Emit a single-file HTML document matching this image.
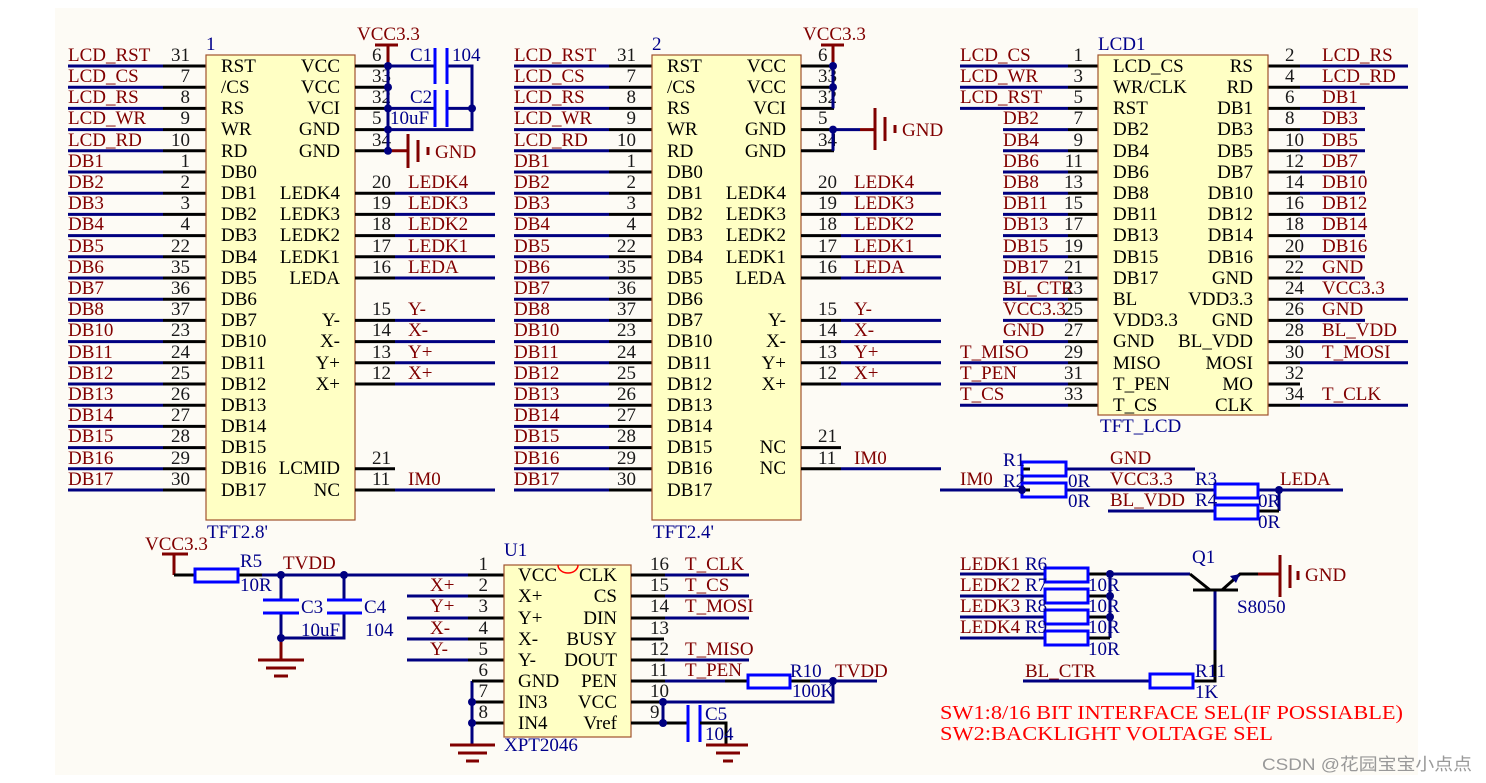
<!DOCTYPE html>
<html><head><meta charset="utf-8"><style>
html,body{margin:0;padding:0;background:#fff;width:1486px;height:783px;overflow:hidden}
svg{display:block}
text{font-family:"Liberation Serif",serif;font-size:19px}
.n{fill:#800000}.p{fill:#1a1a1a}.m{fill:#000}.b{fill:#00008b}.r{fill:#ff0000}
.e{text-anchor:end}
.bw{stroke:#000080;stroke-width:3;fill:none}
.kw{stroke:#000;stroke-width:3;fill:none}
.rw{stroke:#800000;stroke-width:3;fill:none}
.cp{stroke:#0000ff;stroke-width:3;fill:none}
.bx{fill:#ffffc4;stroke:#a0522d;stroke-width:1.2}
.rs{fill:none;stroke:#0000ff;stroke-width:3}
</style></head><body>
<svg width="1486" height="783" viewBox="0 0 1486 783" xmlns="http://www.w3.org/2000/svg">
<rect x="55" y="8" width="1363" height="767" fill="#fdfbf5"/>

<g id="L1">
<path class="bw" d="M68 66H163M68 87.2H163M68 108.4H163M68 129.6H163M68 150.8H163M68 172H163M68 193.2H163M68 214.4H163M68 235.6H163M68 256.8H163M68 278H163M68 299.2H163M68 320.4H163M68 341.6H163M68 362.8H163M68 384H163M68 405.2H163M68 426.4H163M68 447.6H163M68 468.8H163M68 490H163"/>
<path class="kw" d="M163 66H206M163 87.2H206M163 108.4H206M163 129.6H206M163 150.8H206M163 172H206M163 193.2H206M163 214.4H206M163 235.6H206M163 256.8H206M163 278H206M163 299.2H206M163 320.4H206M163 341.6H206M163 362.8H206M163 384H206M163 405.2H206M163 426.4H206M163 447.6H206M163 468.8H206M163 490H206"/>
<rect class="bx" x="206" y="55" width="149" height="465"/>
<g class="n">
<text x="68" y="61">LCD_RST</text><text x="68" y="82">LCD_CS</text><text x="68" y="103">LCD_RS</text><text x="68" y="124">LCD_WR</text><text x="68" y="146">LCD_RD</text>
<text x="68" y="167">DB1</text><text x="68" y="188">DB2</text><text x="68" y="209">DB3</text><text x="68" y="230">DB4</text><text x="68" y="252">DB5</text>
<text x="68" y="273">DB6</text><text x="68" y="294">DB7</text><text x="68" y="315">DB8</text><text x="68" y="336">DB10</text><text x="68" y="358">DB11</text>
<text x="68" y="379">DB12</text><text x="68" y="400">DB13</text><text x="68" y="421">DB14</text><text x="68" y="442">DB15</text><text x="68" y="464">DB16</text><text x="68" y="485">DB17</text>
</g>
<g class="p e">
<text x="190" y="61">31</text><text x="190" y="82">7</text><text x="190" y="103">8</text><text x="190" y="124">9</text><text x="190" y="146">10</text>
<text x="190" y="167">1</text><text x="190" y="188">2</text><text x="190" y="209">3</text><text x="190" y="230">4</text><text x="190" y="252">22</text>
<text x="190" y="273">35</text><text x="190" y="294">36</text><text x="190" y="315">37</text><text x="190" y="336">23</text><text x="190" y="358">24</text>
<text x="190" y="379">25</text><text x="190" y="400">26</text><text x="190" y="421">27</text><text x="190" y="442">28</text><text x="190" y="464">29</text><text x="190" y="485">30</text>
</g>
<g class="m">
<text x="221" y="72">RST</text><text x="221" y="93">/CS</text><text x="221" y="114">RS</text><text x="221" y="135">WR</text><text x="221" y="157">RD</text>
<text x="221" y="178">DB0</text><text x="221" y="199">DB1</text><text x="221" y="220">DB2</text><text x="221" y="241">DB3</text><text x="221" y="263">DB4</text>
<text x="221" y="284">DB5</text><text x="221" y="305">DB6</text><text x="221" y="326">DB7</text><text x="221" y="347">DB10</text><text x="221" y="369">DB11</text>
<text x="221" y="390">DB12</text><text x="221" y="411">DB13</text><text x="221" y="432">DB14</text><text x="221" y="453">DB15</text><text x="221" y="474">DB16</text><text x="221" y="496">DB17</text>
</g>
<path class="kw" d="M355 66H388M355 87.2H388M355 108.4H388M355 129.6H388M355 150.8H388M355 193.2H395M355 214.4H395M355 235.6H395M355 256.8H395M355 278H395M355 320.4H395M355 341.6H395M355 362.8H395M355 384H395"/>
<path class="bw" d="M395 193.2H495M395 214.4H495M395 235.6H495M395 256.8H495M395 278H495M395 320.4H495M395 341.6H495M395 362.8H495M395 384H495"/>
<g class="p">
<text x="372" y="61">6</text><text x="372" y="82">33</text><text x="372" y="103">32</text><text x="372" y="124">5</text><text x="372" y="146">34</text>
<text x="372" y="188">20</text><text x="372" y="209">19</text><text x="372" y="230">18</text><text x="372" y="252">17</text><text x="372" y="273">16</text>
<text x="372" y="315">15</text><text x="372" y="336">14</text><text x="372" y="358">13</text><text x="372" y="379">12</text>
</g>
<g class="n">
<text x="408" y="188">LEDK4</text><text x="408" y="209">LEDK3</text><text x="408" y="230">LEDK2</text><text x="408" y="252">LEDK1</text><text x="408" y="273">LEDA</text>
<text x="408" y="315">Y-</text><text x="408" y="336">X-</text><text x="408" y="358">Y+</text><text x="408" y="379">X+</text>
</g>
<g class="m e">
<text x="340" y="72">VCC</text><text x="340" y="93">VCC</text><text x="340" y="114">VCI</text><text x="340" y="135">GND</text><text x="340" y="157">GND</text>
<text x="340" y="199">LEDK4</text><text x="340" y="220">LEDK3</text><text x="340" y="241">LEDK2</text><text x="340" y="263">LEDK1</text><text x="340" y="284">LEDA</text>
<text x="340" y="326">Y-</text><text x="340" y="347">X-</text><text x="340" y="369">Y+</text><text x="340" y="390">X+</text>
</g>
</g>

<text class="b" x="206" y="50">1</text>
<text class="b" x="207" y="538">TFT2.8'</text>
<text class="m e" x="340" y="474">LCMID</text><text class="m e" x="340" y="496">NC</text>
<path class="kw" d="M355 468.8H395M355 490H395"/>
<path class="bw" d="M395 490H495"/>
<text class="p" x="372" y="464">21</text><text class="p" x="372" y="485">11</text>
<text class="n" x="408" y="485">IM0</text>
<text class="n" x="357" y="40">VCC3.3</text>
<path class="rw" d="M375 45H398M388 45V66"/>
<path class="bw" d="M388 66V129.6M388 66H435M447 66H472V129.6H388M388 108.4H435M447 108.4H472M388 129.6V150.8"/>
<path class="cp" d="M435 48V84M447 48V84M435 90V127M447 90V127"/>
<path class="rw" d="M388 150.8H408M408 134V168M418 140V162M428 147V155"/>
<g fill="#000080"><circle cx="388" cy="66" r="4"/><circle cx="388" cy="87.2" r="4"/><circle cx="388" cy="108.4" r="4"/><circle cx="388" cy="129.6" r="4"/><circle cx="388" cy="150.8" r="4"/><circle cx="472" cy="108.4" r="4"/></g>
<text class="b" x="410" y="61">C1</text><text class="b" x="452" y="61">104</text>
<text class="b" x="410" y="103">C2</text><text class="b" x="390" y="124">10uF</text>
<text class="n" x="435" y="158">GND</text>

<use href="#L1" x="446" y="0"/>
<text class="b" x="652" y="50">2</text>
<text class="b" x="653" y="538">TFT2.4'</text>
<text class="m e" x="786" y="453">NC</text><text class="m e" x="786" y="474">NC</text>
<path class="kw" d="M801 447.6H841M801 468.8H841"/>
<path class="bw" d="M841 468.8H941"/>
<text class="p" x="818" y="442">21</text><text class="p" x="818" y="464">11</text>
<text class="n" x="854" y="464">IM0</text>
<text class="n" x="803" y="40">VCC3.3</text>
<path class="rw" d="M821 45H844M833 45V66"/>
<path class="bw" d="M833 66V108.4M833 129.6V150.8M833 129.6H860"/>
<path class="rw" d="M860 129.6H875M875 108V150M885 117V141M895 125V133"/>
<g fill="#000080"><circle cx="833" cy="66" r="4"/><circle cx="833" cy="87.2" r="4"/><circle cx="833" cy="129.6" r="4"/></g>
<text class="n" x="902" y="136">GND</text>

<path class="bw" d="M960 66H1068M960 87.2H1068M960 108.4H1068M1003 129.6H1068M1003 150.8H1068M1003 172H1068M1003 193.2H1068M1003 214.4H1068M1003 235.6H1068M1003 256.8H1068M1003 278H1068M1003 299.2H1068M1003 320.4H1068M1003 341.6H1068M960 362.8H1068M960 384H1068M960 405.2H1068"/>
<path class="kw" d="M1068 66H1098M1068 87.2H1098M1068 108.4H1098M1068 129.6H1098M1068 150.8H1098M1068 172H1098M1068 193.2H1098M1068 214.4H1098M1068 235.6H1098M1068 256.8H1098M1068 278H1098M1068 299.2H1098M1068 320.4H1098M1068 341.6H1098M1068 362.8H1098M1068 384H1098M1068 405.2H1098"/>
<path class="kw" d="M1268 66H1300M1268 87.2H1300M1268 108.4H1300M1268 129.6H1300M1268 150.8H1300M1268 172H1300M1268 193.2H1300M1268 214.4H1300M1268 235.6H1300M1268 256.8H1300M1268 278H1300M1268 299.2H1300M1268 320.4H1300M1268 341.6H1300M1268 362.8H1300M1268 384H1300M1268 405.2H1300"/>
<path class="bw" d="M1300 66H1408M1300 87.2H1408M1300 108.4H1365M1300 129.6H1365M1300 150.8H1365M1300 172H1365M1300 193.2H1365M1300 214.4H1365M1300 235.6H1365M1300 256.8H1365M1300 278H1365M1300 299.2H1408M1300 320.4H1365M1300 341.6H1408M1300 362.8H1408M1300 405.2H1408"/>
<rect class="bx" x="1098" y="55" width="170" height="360"/>
<text class="b" x="1098" y="50">LCD1</text><text class="b" x="1100" y="432">TFT_LCD</text>
<g class="n">
<text x="960" y="61">LCD_CS</text><text x="960" y="82">LCD_WR</text><text x="960" y="103">LCD_RST</text>
<text x="1003" y="124">DB2</text><text x="1003" y="146">DB4</text><text x="1003" y="167">DB6</text><text x="1003" y="188">DB8</text><text x="1003" y="209">DB11</text>
<text x="1003" y="230">DB13</text><text x="1003" y="252">DB15</text><text x="1003" y="273">DB17</text><text x="1003" y="294">BL_CTR</text><text x="1003" y="315">VCC3.3</text>
<text x="1003" y="336">GND</text><text x="960" y="358">T_MISO</text><text x="960" y="379">T_PEN</text><text x="960" y="400">T_CS</text>
<text x="1322" y="61">LCD_RS</text><text x="1322" y="82">LCD_RD</text><text x="1322" y="103">DB1</text><text x="1322" y="124">DB3</text><text x="1322" y="146">DB5</text>
<text x="1322" y="167">DB7</text><text x="1322" y="188">DB10</text><text x="1322" y="209">DB12</text><text x="1322" y="230">DB14</text><text x="1322" y="252">DB16</text>
<text x="1322" y="273">GND</text><text x="1322" y="294">VCC3.3</text><text x="1322" y="315">GND</text><text x="1322" y="336">BL_VDD</text><text x="1322" y="358">T_MOSI</text><text x="1322" y="400">T_CLK</text>
</g>
<g class="p e">
<text x="1083" y="61">1</text><text x="1083" y="82">3</text><text x="1083" y="103">5</text><text x="1083" y="124">7</text><text x="1083" y="146">9</text>
<text x="1083" y="167">11</text><text x="1083" y="188">13</text><text x="1083" y="209">15</text><text x="1083" y="230">17</text><text x="1083" y="252">19</text>
<text x="1083" y="273">21</text><text x="1083" y="294">23</text><text x="1083" y="315">25</text><text x="1083" y="336">27</text><text x="1083" y="358">29</text><text x="1083" y="379">31</text><text x="1083" y="400">33</text>
</g>
<g class="p">
<text x="1285" y="61">2</text><text x="1285" y="82">4</text><text x="1285" y="103">6</text><text x="1285" y="124">8</text><text x="1285" y="146">10</text>
<text x="1285" y="167">12</text><text x="1285" y="188">14</text><text x="1285" y="209">16</text><text x="1285" y="230">18</text><text x="1285" y="252">20</text>
<text x="1285" y="273">22</text><text x="1285" y="294">24</text><text x="1285" y="315">26</text><text x="1285" y="336">28</text><text x="1285" y="358">30</text><text x="1285" y="379">32</text><text x="1285" y="400">34</text>
</g>
<g class="m">
<text x="1113" y="72">LCD_CS</text><text x="1113" y="93">WR/CLK</text><text x="1113" y="114">RST</text><text x="1113" y="135">DB2</text><text x="1113" y="157">DB4</text>
<text x="1113" y="178">DB6</text><text x="1113" y="199">DB8</text><text x="1113" y="220">DB11</text><text x="1113" y="241">DB13</text><text x="1113" y="263">DB15</text>
<text x="1113" y="284">DB17</text><text x="1113" y="305">BL</text><text x="1113" y="326">VDD3.3</text><text x="1113" y="347">GND</text><text x="1113" y="369">MISO</text><text x="1113" y="390">T_PEN</text><text x="1113" y="411">T_CS</text>
</g>
<g class="m e">
<text x="1253" y="72">RS</text><text x="1253" y="93">RD</text><text x="1253" y="114">DB1</text><text x="1253" y="135">DB3</text><text x="1253" y="157">DB5</text>
<text x="1253" y="178">DB7</text><text x="1253" y="199">DB10</text><text x="1253" y="220">DB12</text><text x="1253" y="241">DB14</text><text x="1253" y="263">DB16</text>
<text x="1253" y="284">GND</text><text x="1253" y="305">VDD3.3</text><text x="1253" y="326">GND</text><text x="1253" y="347">BL_VDD</text><text x="1253" y="369">MOSI</text><text x="1253" y="390">MO</text><text x="1253" y="411">CLK</text>
</g>

<path class="bw" d="M940 490H1022M1022 469V490M1066 469H1195M1066 490H1215M1108 511H1215M1258 490H1343M1279 490V511"/>
<path class="kw" d="M1022 469H1030M1022 490H1030M1258 511H1279"/>
<rect class="rs" x="1022" y="462" width="44" height="14"/>
<rect class="rs" x="1022" y="483" width="44" height="14"/>
<rect class="rs" x="1215" y="484" width="43" height="14"/>
<rect class="rs" x="1215" y="505" width="43" height="14"/>
<g fill="#000080"><circle cx="1022" cy="490" r="4"/><circle cx="1279" cy="490" r="4"/></g>
<text class="n" x="960" y="485">IM0</text>
<text class="b" x="1003" y="466">R1</text><text class="b" x="1003" y="487">R2</text>
<text class="b" x="1068" y="487">0R</text><text class="b" x="1068" y="507">0R</text>
<text class="n" x="1110" y="464">GND</text><text class="n" x="1110" y="485">VCC3.3</text><text class="n" x="1110" y="506">BL_VDD</text>
<text class="b" x="1195" y="485">R3</text><text class="b" x="1195" y="506">R4</text>
<text class="b" x="1258" y="507">0R</text><text class="b" x="1258" y="528">0R</text>
<text class="n" x="1280" y="485">LEDA</text>

<path class="bw" d="M960 574H1045M960 596H1045M960 617H1045M960 638H1045M1110 574V638M1110 574H1190M1215 590V681M1023 681H1150"/>
<path class="kw" d="M1088 574H1110M1088 596H1110M1088 617H1110M1088 638H1110M1190 574L1210 590M1193 590H1238M1222 590L1240 574H1258M1193 681H1215V650"/>
<path d="M1240 574L1230 576L1236 583Z" fill="#000080"/>
<path class="rw" d="M1258 574H1280M1280 555V597M1290 565V588M1298 571V580"/>
<rect class="rs" x="1045" y="568" width="43" height="14"/>
<rect class="rs" x="1045" y="589" width="43" height="14"/>
<rect class="rs" x="1045" y="610" width="43" height="14"/>
<rect class="rs" x="1045" y="631" width="43" height="14"/>
<rect class="rs" x="1150" y="674" width="43" height="14"/>
<g fill="#000080"><circle cx="1110" cy="574" r="4"/><circle cx="1110" cy="596" r="4"/><circle cx="1110" cy="617" r="4"/></g>
<g class="n"><text x="960" y="570">LEDK1</text><text x="960" y="591">LEDK2</text><text x="960" y="612">LEDK3</text><text x="960" y="633">LEDK4</text><text x="1025" y="677">BL_CTR</text></g>
<g class="b"><text x="1025" y="570">R6</text><text x="1025" y="591">R7</text><text x="1025" y="612">R8</text><text x="1025" y="633">R9</text>
<text x="1088" y="591">10R</text><text x="1088" y="612">10R</text><text x="1088" y="633">10R</text><text x="1088" y="655">10R</text>
<text x="1192" y="563">Q1</text><text x="1237" y="613">S8050</text><text x="1195" y="677">R11</text><text x="1195" y="698">1K</text></g>
<text class="n" x="1305" y="581">GND</text>
<text class="r" x="940" y="719" textLength="463" lengthAdjust="spacingAndGlyphs" style="font-size:20px">SW1:8/16 BIT INTERFACE SEL(IF POSSIABLE)</text>
<text class="r" x="940" y="740" textLength="333" lengthAdjust="spacingAndGlyphs" style="font-size:20px">SW2:BACKLIGHT VOLTAGE SEL</text>

<text class="n" x="145" y="550">VCC3.3</text>
<path class="rw" d="M162 554H188M174 554V575"/>
<path class="kw" d="M174 575H195M238 575H262"/>
<rect class="rs" x="195" y="569" width="43" height="13"/>
<path class="bw" d="M262 575H468M281 575V600M344 575V600M281 613V638H344V613"/>
<path class="cp" d="M263 600H299M263 613H299M327 600H362M327 613H362"/>
<path class="rw" d="M281 638V660M258 660H304M266 668H296M274 676H288"/>
<g fill="#000080"><circle cx="281" cy="575" r="4"/><circle cx="344" cy="575" r="4"/><circle cx="281" cy="638" r="4"/></g>
<text class="b" x="240" y="567">R5</text><text class="b" x="240" y="591">10R</text>
<text class="n" x="283" y="569">TVDD</text>
<text class="b" x="301" y="613">C3</text><text class="b" x="364" y="613">C4</text>
<text class="b" x="301" y="636">10uF</text><text class="b" x="365" y="636">104</text>

<path class="bw" d="M407 596H468M407 618H468M407 639H468M407 660H468M472 681V745"/>
<path class="kw" d="M468 575H504M468 596H504M468 618H504M468 639H504M468 660H504M472 681H504M472 702H504M472 723H504"/>
<path class="rw" d="M450 745H495M458 753H487M466 761H479"/>
<g fill="#000080"><circle cx="472" cy="702" r="4"/><circle cx="472" cy="723" r="4"/></g>
<rect class="bx" x="504" y="565" width="127" height="172"/>
<path d="M558 565A10 8 0 0 0 578 565" fill="none" stroke="#ff0000" stroke-width="1.5"/>
<text class="b" x="504" y="556">U1</text><text class="b" x="504" y="751">XPT2046</text>
<g class="n"><text x="430" y="591">X+</text><text x="430" y="612">Y+</text><text x="430" y="634">X-</text><text x="430" y="655">Y-</text></g>
<g class="p e"><text x="488" y="570">1</text><text x="488" y="591">2</text><text x="488" y="612">3</text><text x="488" y="634">4</text><text x="488" y="655">5</text><text x="488" y="676">6</text><text x="488" y="697">7</text><text x="488" y="718">8</text></g>
<g class="m"><text x="518" y="581">VCC</text><text x="518" y="602">X+</text><text x="518" y="624">Y+</text><text x="518" y="645">X-</text><text x="518" y="666">Y-</text><text x="518" y="687">GND</text><text x="518" y="708">IN3</text><text x="518" y="729">IN4</text></g>
<g class="m e"><text x="617" y="581">CLK</text><text x="617" y="602">CS</text><text x="617" y="624">DIN</text><text x="617" y="645">BUSY</text><text x="617" y="666">DOUT</text><text x="617" y="687">PEN</text><text x="617" y="708">VCC</text><text x="617" y="729">Vref</text></g>
<path class="kw" d="M631 575H665M631 596H665M631 618H665M631 639H664M631 660H665M631 681H665M725 681H748M790 681H810M631 702H665M631 723H688"/>
<path class="bw" d="M665 575H749M665 596H749M665 618H749M665 660H749M665 681H725M810 681H877M665 702H833V681M663 702V723"/>
<rect class="rs" x="748" y="675" width="42" height="13"/>
<path class="cp" d="M688 705V742M700 705V742"/>
<path class="kw" d="M700 723H726V745"/>
<path class="rw" d="M706 745H748M716 753H740M723 761H733"/>
<g fill="#000080"><circle cx="663" cy="702" r="4"/><circle cx="663" cy="723" r="4"/><circle cx="833" cy="681" r="4"/></g>
<g class="p"><text x="650" y="570">16</text><text x="650" y="591">15</text><text x="650" y="612">14</text><text x="650" y="634">13</text><text x="650" y="655">12</text><text x="650" y="676">11</text><text x="650" y="697">10</text><text x="650" y="718">9</text></g>
<g class="n"><text x="685" y="570">T_CLK</text><text x="685" y="591">T_CS</text><text x="685" y="612">T_MOSI</text><text x="685" y="655">T_MISO</text><text x="685" y="676">T_PEN</text><text x="835" y="677">TVDD</text></g>
<text class="b" x="790" y="677">R10</text><text class="b" x="792" y="697">100K</text>
<text class="b" x="705" y="720">C5</text><text class="b" x="705" y="740">104</text>

<text x="1262" y="770" textLength="210" lengthAdjust="spacingAndGlyphs" style="font-family:'Liberation Sans','Noto Sans CJK SC',sans-serif;font-size:17px;fill:#999">CSDN @花园宝宝小点点</text>
</svg>
</body></html>
